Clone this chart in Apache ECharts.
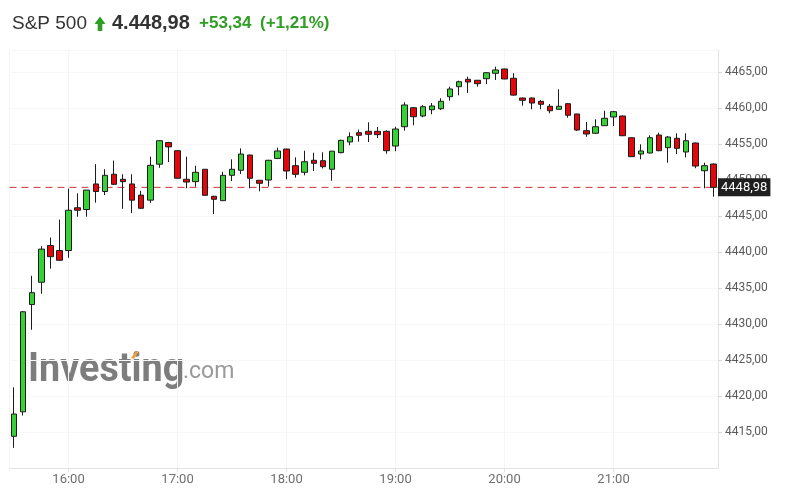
<!DOCTYPE html>
<html>
<head>
<meta charset="utf-8">
<script src="https://cdn.jsdelivr.net/npm/echarts@6/dist/echarts.min.js"></script>
<style>html,body{margin:0;padding:0;background:#fff}#c{width:785px;height:497px}</style>
</head>
<body>
<div id="c"></div>
<script>
// 5-minute candles, 15:30 .. 21:55
var times = ["15:30","15:35","15:40","15:45","15:50","15:55",
"16:00","16:05","16:10","16:15","16:20","16:25","16:30","16:35","16:40","16:45","16:50","16:55",
"17:00","17:05","17:10","17:15","17:20","17:25","17:30","17:35","17:40","17:45","17:50","17:55",
"18:00","18:05","18:10","18:15","18:20","18:25","18:30","18:35","18:40","18:45","18:50","18:55",
"19:00","19:05","19:10","19:15","19:20","19:25","19:30","19:35","19:40","19:45","19:50","19:55",
"20:00","20:05","20:10","20:15","20:20","20:25","20:30","20:35","20:40","20:45","20:50","20:55",
"21:00","21:05","21:10","21:15","21:20","21:25","21:30","21:35","21:40","21:45","21:50","21:55"];
var opens = [4414.4,4417.8,4432.7,4435.8,4440.9,4440.2,
4440.2,4446.15,4445.9,4449.45,4448.4,4450.8,4450.1,4449.45,4447.9,4447.2,4452.2,4455.2,
4454.07,4450.1,4449.77,4451.49,4447.74,4447.13,4450.65,4451.35,4453.47,4449.96,4450.0,4453.0,
4454.3,4451.99,4451.07,4452.74,4452.68,4451.49,4453.8,4455.28,4456.57,4456.76,4456.76,4456.76,
4454.72,4457.4,4460.04,4458.89,4459.76,4459.9,4461.57,4462.96,4463.99,4463.85,4464.07,4464.82,
4465.42,4464.13,4461.39,4461.39,4460.93,4460.24,4459.82,4460.6,4459.17,4456.85,4456.49,4457.54,
4458.75,4458.89,4455.87,4453.61,4453.75,4456.25,4454.49,4455.79,4453.89,4455.14,4451.29,4452.22];
var closes = [4417.5,4431.7,4434.35,4440.4,4439.35,4438.85,
4445.8,4445.8,4448.6,4448.4,4450.65,4449.4,4449.77,4447.2,4446.07,4452.04,4455.46,4454.6,
4450.24,4449.72,4451.07,4447.87,4447.32,4450.65,4451.49,4453.61,4450.24,4449.54,4452.74,4454.03,
4451.25,4450.79,4452.54,4452.32,4451.85,4454.0,4455.51,4456.01,4456.21,4456.35,4456.3,4454.07,
4457.08,4460.42,4458.79,4460.18,4460.28,4460.93,4462.64,4463.65,4463.61,4463.38,4464.9,4465.28,
4464.03,4461.79,4461.07,4460.69,4460.51,4459.62,4460.24,4458.99,4456.94,4456.39,4457.4,4458.57,
4459.49,4456.15,4453.24,4454.03,4455.87,4454.07,4455.97,4454.4,4455.46,4451.94,4451.99,4448.98];
var lows = [4412.8,4417.3,4429.2,4434.2,4437.7,4438.8,
4439.2,4444.9,4444.9,4446.85,4447.9,4449.3,4446.0,4445.4,4446.0,4446.8,4451.7,4452.5,
4450.2,4448.85,4449.07,4447.8,4445.28,4447.1,4449.86,4450.83,4448.85,4448.43,4449.1,4452.9,
4450.1,4450.32,4450.65,4451.25,4451.6,4449.9,4453.7,4454.82,4455.32,4455.28,4455.83,4453.65,
4454.0,4456.85,4457.6,4458.7,4459.13,4459.72,4461.01,4461.76,4462.08,4462.96,4463.33,4463.89,
4464.0,4461.7,4460.32,4459.82,4459.82,4459.26,4459.8,4458.65,4456.8,4456.01,4456.4,4457.5,
4457.5,4456.1,4453.2,4452.88,4453.7,4454.0,4452.4,4453.61,4453.15,4451.63,4448.85,4447.68];
var highs = [4421.2,4431.8,4436.7,4440.8,4442.0,4444.5,
4448.8,4448.15,4448.6,4452.2,4451.5,4452.7,4450.8,4450.8,4448.5,4453.24,4455.5,4455.3,
4454.1,4453.24,4451.99,4451.5,4447.8,4451.15,4452.87,4454.4,4453.5,4450.0,4452.8,4454.49,
4454.35,4453.15,4454.07,4453.79,4453.85,4454.05,4455.6,4456.62,4457.0,4458.01,4457.36,4456.9,
4457.4,4460.8,4460.1,4460.4,4460.69,4461.35,4462.96,4463.8,4464.35,4463.9,4465.0,4465.74,
4465.45,4464.82,4461.45,4461.45,4461.1,4460.56,4462.6,4460.7,4459.2,4458.06,4458.43,4459.62,
4459.6,4458.95,4455.9,4454.96,4456.2,4456.57,4456.1,4456.49,4456.49,4455.2,4452.4,4452.3];
var lastPrice = 4448.98;
var yTicksMin = 4410, yTicksMax = 4468, yStep = 5;

function toTs(hm){ var p = hm.split(':'); return new Date(2023,6,27,+p[0],+p[1]).getTime(); }
var data = times.map(function(t,i){ return [toTs(t), opens[i], closes[i], lows[i], highs[i]]; });
var half = 150000;
var xMin = toTs(times[0]) - half, xMax = toTs(times[times.length-1]) + half;
var fmt = function(v){ return v.toFixed(2).replace('.', ','); };

var chart = echarts.init(document.getElementById('c'), null, {renderer:'canvas'});
chart.setOption({
  animation: false,
  backgroundColor: '#fff',
  grid: { left: 9.5, right: 67, top: 50.4, bottom: 29 },
  xAxis: {
    type: 'time',
    min: xMin, max: xMax,
    minInterval: 3600000, maxInterval: 3600000,
    axisLine: { show: true, lineStyle: { color: '#e3e3e3' } },
    axisTick: { show: true, length: 4, lineStyle: { color: '#e3e3e3' } },
    axisLabel: { formatter: '{HH}:{mm}', color: '#6f6f6f', fontSize: 13, fontFamily: 'Roboto', margin: 5, showMinLabel:false, showMaxLabel:false },
    splitLine: { show: true, lineStyle: { color: '#f5f5f5' } }
  },
  yAxis: {
    type: 'value', position: 'right', scale: true,
    min: yTicksMin, max: yTicksMax, interval: yStep,
    axisLine: { show: true, lineStyle: { color: '#e3e3e3' } },
    axisTick: { show: true, length: 4, lineStyle: { color: '#d8d8d8' } },
    axisLabel: { formatter: fmt, color: '#5a5a5a', fontSize: 12, fontFamily: 'Roboto', margin: 7, showMinLabel: false, showMaxLabel: false },
    splitLine: { show: true, lineStyle: { color: '#f7f7f7' } }
  },
  graphic: [
    { type:'text', left: 12, top: 14, style:{ text:'S&P 500', font:'19px "Liberation Sans"', fill:'#333' } },
    { type:'polygon', shape:{ points:[[94.5,24],[100,16.5],[105.5,24],[102.3,24],[102.3,31],[97.7,31],[97.7,24]] }, style:{ fill:'#2e9e24' } },
    { type:'text', left: 112, top: 13, style:{ text:'4.448,98', font:'bold 20px "Liberation Sans"', fill:'#333' } },
    { type:'text', left: 199, top: 15, style:{ text:'+53,34', font:'bold 17px "Liberation Sans"', fill:'#2e9e24' } },
    { type:'text', left: 260, top: 15, style:{ text:'(+1,21%)', font:'bold 17px "Liberation Sans"', fill:'#2e9e24' } },
    { type:'text', x: 28, y: 350, scaleX: 0.92, z: 0, style:{ text:'Investing', font:'bold 41px Roboto', fill:'#7d7d7d' } },
    { type:'polygon', z: 0, shape:{ points:[[131,358],[136,351],[138.5,352],[134,359]] }, style:{ fill:'#f0a43a' } },
    { type:'text', x: 183, y: 361, z: 0, style:{ text:'.com', font:'23px Roboto', fill:'#9a9a9a' } }
  ],
  series: [{
    type: 'line',
    data: [[xMin, lastPrice], [xMax, lastPrice]],
    symbol: 'none', silent: true, z: 1,
    lineStyle: { type: [7,5], color: '#c9343a', width: 1 },
    itemStyle: { color: '#c9343a' },
    endLabel: { show: true, distance: 0, formatter: function(){ return fmt(lastPrice); }, backgroundColor: '#1f1f1f', color: '#fff', fontSize: 13, fontFamily: 'Roboto', padding: [3,3,2,3] }
  }, {
    type: 'candlestick',
    data: data,
    barWidth: 6, z: 2,
    itemStyle: { color: '#37d136', color0: '#e3060b', borderColor: '#1c1c1c', borderColor0: '#1c1c1c', borderWidth: 1 }
  }]
});
</script>
</body>
</html>
